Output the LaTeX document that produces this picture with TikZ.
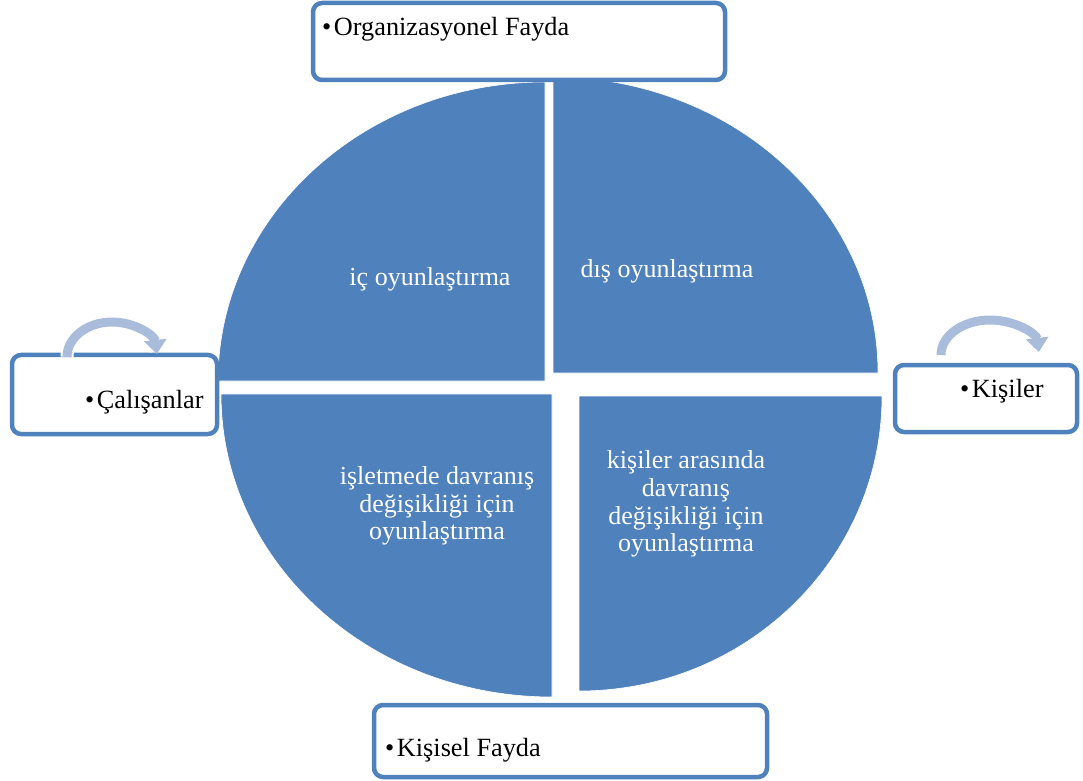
\documentclass[tikz,border=0pt]{standalone}
\usepackage{fontspec}
\setmainfont{Liberation Serif}
\usetikzlibrary{arrows.meta}
\definecolor{secblue}{HTML}{4F81BD}
\definecolor{arrblue}{HTML}{A9BCDC}
\newcommand{\bulletmark}{•\kern2.5pt}
\tikzset{
  sector/.style={fill=secblue, draw=white, line width=0.6pt},
  labelbox/.style={draw=secblue, line width=4.5pt, fill=white, rounded corners=9pt},
  boxtext/.style={anchor=base west, inner sep=0pt, font=\fontsize{26.3}{27}\selectfont},
  sectext/.style={text=white, align=center, inner sep=0pt, font=\fontsize{26}{27.7}\selectfont},
  looparrow/.style={draw=arrblue, line width=9pt, -{Triangle[length=14pt, width=22pt]}},
  loopshadow/.style={draw=white, line width=13pt}
}
\begin{document}
\begin{tikzpicture}[x=1pt, y=1pt]
\useasboundingbox (0,0) rectangle (1083,780);

% four quarter sectors of the ellipse
\path[sector] (545,399) -- (218,399) arc[start angle=180, end angle=90, x radius=327, y radius=299] -- cycle;
\path[sector] (553,407) -- (553,703) arc[start angle=90, end angle=0, x radius=325, y radius=296] -- cycle;
\path[sector] (552,386) -- (221,386) arc[start angle=180, end angle=270, x radius=331, y radius=303] -- cycle;
\path[sector] (579,384) -- (882,384) arc[start angle=0, end angle=-90, x radius=303, y radius=295] -- cycle;

\node[sectext] (ic) at (430,501) {iç oyunlaştırma};
\node[sectext] (dis) at (667,509) {dış oyunlaştırma};
\node[sectext] (isletme) at (437,274) {işletmede davranış\\değişikliği için\\oyunlaştırma};
\node[sectext] (kisiarasi) at (686,276) {kişiler arasında\\davranış\\değişikliği için\\oyunlaştırma};

% label boxes
\draw[labelbox] (313,777) rectangle (725,700);
\draw[labelbox] (374,75) rectangle (767,3);
\draw[labelbox] (12,425) rectangle (217,346);
\draw[labelbox] (895,415) rectangle (1077,348);

\node[boxtext] (org) at (322,744) {\bulletmark Organizasyonel Fayda};
\node[boxtext] (kisisel) at (385,24) {\bulletmark Kişisel Fayda};
\node[boxtext] (calisan) at (85,372) {\bulletmark Çalışanlar};
\node[boxtext] (kisiler) at (960,383) {\bulletmark Kişiler};

% circular arrows over the side boxes
\coordinate (ca) at (67,423);
\coordinate (kb) at (941,425);
\draw[loopshadow] (ca) arc[start angle=180, end angle=10, x radius=45, y radius=35];
\draw[looparrow] (ca) arc[start angle=180, end angle=5, x radius=45, y radius=35];
\draw[looparrow] (kb) arc[start angle=180, end angle=5, x radius=49, y radius=35];
\end{tikzpicture}
\end{document}
